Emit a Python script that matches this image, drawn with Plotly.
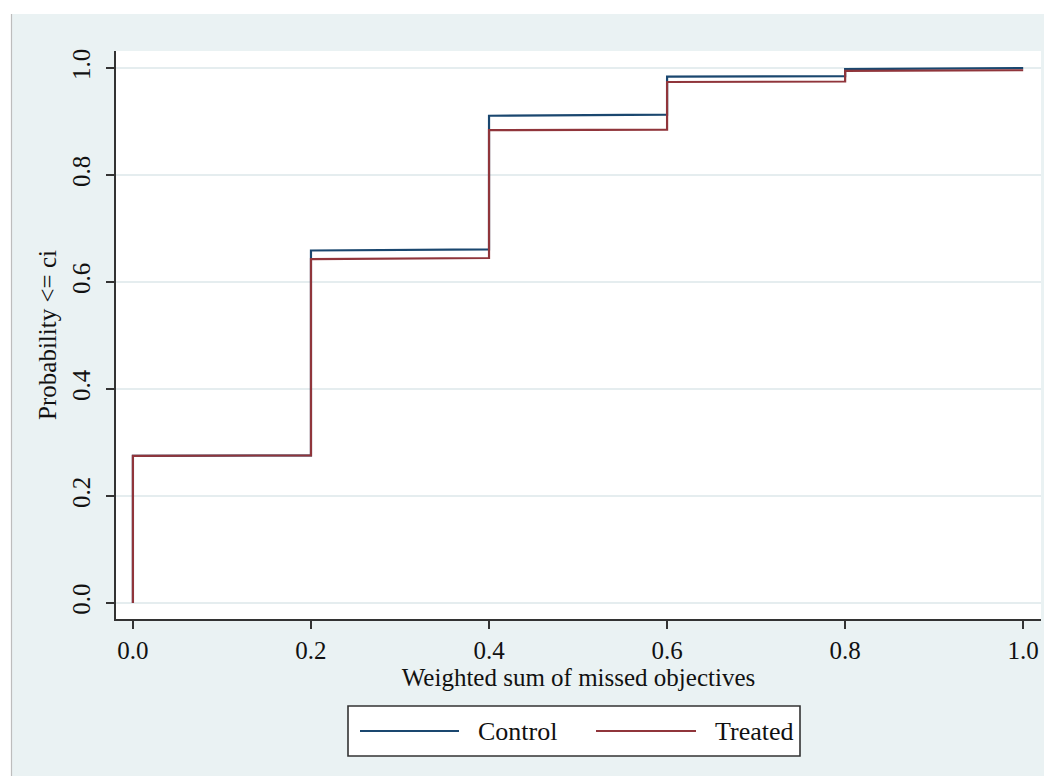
import plotly.graph_objects as go

# ---- data ----
x_steps = [0.0, 0.0, 0.2, 0.2, 0.4, 0.4, 0.6, 0.6, 0.8, 0.8, 1.0]
control = [0.0, 0.275, 0.276, 0.659, 0.661, 0.911, 0.913, 0.984, 0.985, 0.998, 1.0]
treated = [0.0, 0.275, 0.276, 0.643, 0.645, 0.884, 0.885, 0.974, 0.975, 0.995, 0.996]

series_names = ["Control", "Treated"]
series_colors = ["#1a476f", "#90353b"]
tick_vals = [0.0, 0.2, 0.4, 0.6, 0.8, 1.0]
tick_text = ["0.0", "0.2", "0.4", "0.6", "0.8", "1.0"]
x_title = "Weighted sum of missed objectives"
y_title = "Probability <= ci"

# page body has an 8px margin; size the figure so the page does not scroll
OFF = 8
W, H = 1052 - 2 * OFF, 784 - 2 * OFF
L, T = 116 - OFF, 51 - OFF
R = W - (1041 - OFF)
B = H - (619 - OFF)
pw, ph = W - L - R, H - T - B

def px(xs):  # screen px -> paper
    return (xs - OFF - L) / pw

def py(ys):
    return (H - B - (ys - OFF)) / ph

FONT = "Liberation Serif"
BG = "#eaf2f3"
AX = "#333333"

fig = go.Figure()
for name, vals, col in zip(series_names, [control, treated], series_colors):
    fig.add_trace(go.Scatter(x=x_steps, y=vals, mode="lines", name=name,
                             line=dict(color=col, width=2.2), showlegend=False))

shapes = [
    # white strips outside the graph region
    dict(type="rect", xref="paper", yref="paper", x0=px(0), x1=px(11), y0=py(800), y1=py(0),
         fillcolor="white", line=dict(width=0), layer="above"),
    dict(type="rect", xref="paper", yref="paper", x0=px(0), x1=px(1060), y0=py(14), y1=py(0),
         fillcolor="white", line=dict(width=0), layer="above"),
    dict(type="line", xref="paper", yref="paper", x0=px(11.5), x1=px(11.5), y0=py(800), y1=py(14),
         line=dict(color="#bdbdbd", width=1.2), layer="above"),
    # legend box
    dict(type="rect", xref="paper", yref="paper", x0=px(348), x1=px(800), y0=py(756), y1=py(706),
         fillcolor="white", line=dict(color=AX, width=1.6), layer="above"),
]
annotations = []
legend_items = [(360, 459, 476), (596, 696, 713)]
for (lx0, lx1, tx), name, col in zip(legend_items, series_names, series_colors):
    shapes.append(dict(type="line", xref="paper", yref="paper", x0=px(lx0), x1=px(lx1),
                       y0=py(731), y1=py(731), line=dict(color=col, width=2.2), layer="above"))
    annotations.append(dict(text=name, xref="paper", yref="paper", x=px(tx), y=py(731),
                            xanchor="left", yanchor="middle", showarrow=False,
                            font=dict(family=FONT, size=26, color="#111111")))

fig.update_layout(
    width=W, height=H,
    margin=dict(l=L, r=R, t=T, b=B, pad=0),
    paper_bgcolor=BG, plot_bgcolor="white",
    shapes=shapes, annotations=annotations,
    font=dict(family=FONT, color="#111111"),
    xaxis=dict(range=[-0.019, 1.020], tickvals=tick_vals, ticktext=tick_text,
               showgrid=False, zeroline=False, showline=True, linecolor=AX, linewidth=1.6,
               ticks="outside", ticklen=8, tickwidth=1.5, tickcolor=AX,
               tickfont=dict(family=FONT, size=25, color="#111111"), ticklabelstandoff=0,
               title=dict(text=x_title, font=dict(family=FONT, size=25, color="#111111"), standoff=4)),
    yaxis=dict(range=[-0.03, 1.032], tickvals=tick_vals, ticktext=tick_text,
               showgrid=True, gridcolor="#e5edef", gridwidth=2, zeroline=False,
               showline=True, linecolor=AX, linewidth=1.6,
               ticks="outside", ticklen=8, tickwidth=1.5, tickcolor=AX, tickangle=-90,
               tickfont=dict(family=FONT, size=25, color="#111111"), ticklabelstandoff=6,
               title=dict(text=y_title, font=dict(family=FONT, size=25, color="#111111"), standoff=4)),
)

fig.write_html("out.html")
